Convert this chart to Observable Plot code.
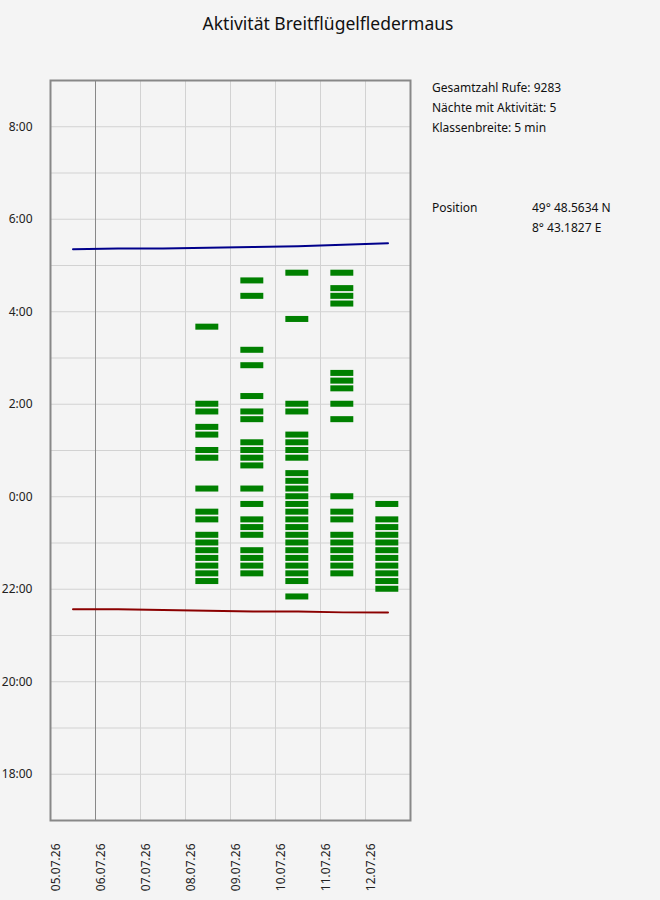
<!DOCTYPE html>
<html><head><meta charset="utf-8">
<script src="https://cdn.jsdelivr.net/npm/d3@7"></script>
<script src="https://cdn.jsdelivr.net/npm/@observablehq/plot@0.6"></script>
<style>
html,body{margin:0;padding:0;background:#f4f4f4;}
#wrap{position:relative;width:660px;height:900px;overflow:hidden;font-family:"Noto Sans",sans-serif;}
#wrap > svg{position:absolute;left:0;top:0;}
</style></head><body><div id="wrap"></div>
<script>
// ---- data ----
const titleText = "Aktivität Breitflügelfledermaus";
const infoLines = ["Gesamtzahl Rufe: 9283", "Nächte mit Aktivität: 5", "Klassenbreite: 5 min"];
const positionLabel = "Position";
const positionLines = ["49° 48.5634 N", "8° 43.1827 E"];

const dayTicks = ["2026-07-05","2026-07-06","2026-07-07","2026-07-08","2026-07-09","2026-07-10","2026-07-11","2026-07-12"];
const domainEnd = "2026-07-13";
const markerDay = "2026-07-06";
const hourTicks = [-6, -4, -2, 0, 2, 4, 6, 8];

const nightDates = ["2026-07-08","2026-07-09","2026-07-10","2026-07-11","2026-07-12"];
const night0807 = ["22:10","22:20","22:30","22:40","22:50","23:00","23:10","23:30","23:40","00:10","00:50","01:00","01:20","01:30","01:50","02:00","03:40"];
const night0907 = ["22:20","22:30","22:40","22:50","23:10","23:20","23:30","23:50","00:10","00:40","00:50","01:00","01:10","01:40","01:50","02:10","02:50","03:10","04:20","04:40"];
const night1007 = ["21:50","22:10","22:20","22:30","22:40","22:50","23:00","23:10","23:20","23:30","23:40","23:50","00:00","00:10","00:20","00:30","00:50","01:00","01:10","01:20","01:50","02:00","03:50","04:50"];
const night1107 = ["22:20","22:30","22:40","22:50","23:00","23:10","23:30","23:40","00:00","01:40","02:00","02:20","02:30","02:40","04:10","04:20","04:30","04:50"];
const night1207 = ["22:00","22:10","22:20","22:30","22:40","22:50","23:00","23:10","23:20","23:30","23:50"];

const sunDays = dayTicks;
const sunrise = ["05:21","05:22","05:22","05:23","05:24","05:25","05:27","05:29"];
const sunset  = ["21:34","21:34","21:33","21:32","21:31","21:31","21:30","21:30"];

// ---- helpers ----
const parseDay = d3.utcParse("%Y-%m-%d");
const fmtDay = d3.utcFormat("%d.%m.%y");
const toH = s => { const [h, m] = s.split(":").map(Number); const v = h + m / 60; return v >= 12 ? v - 24 : v; };
const DAY = 864e5;

const nights = [night0807, night0907, night1007, night1107, night1207];
const bars = nights.flatMap((arr, i) => arr.map(t => ({night: parseDay(nightDates[i]), h: toH(t)})));
const sunData = sunDays.map((d, i) => ({day: parseDay(d), rise: toH(sunrise[i]), set: toH(sunset[i])}));
const days = dayTicks.map(parseDay);
const halfBar = 3.9 / 60;

const chart = Plot.plot({
  width: 660, height: 900,
  marginLeft: 50, marginRight: 250, marginTop: 80, marginBottom: 80,
  style: {background: "transparent", fontFamily: "Noto Sans, sans-serif", fontSize: "12px", color: "#222", overflow: "visible"},
  x: {type: "utc", domain: [parseDay(dayTicks[0]), parseDay(domainEnd)], axis: null},
  y: {domain: [-7, 9], axis: null},
  marks: [
    Plot.gridY(d3.range(-6, 9), {stroke: "#d2d2d2", strokeOpacity: 1}),
    Plot.gridX(days, {stroke: "#d2d2d2", strokeOpacity: 1}),
    Plot.ruleX([parseDay(markerDay)], {stroke: "#888", strokeWidth: 1}),
    Plot.rect(bars, {
      x1: d => new Date(+d.night + 0.23 * DAY),
      x2: d => new Date(+d.night + 0.74 * DAY),
      y1: d => d.h - halfBar,
      y2: d => d.h + halfBar,
      fill: "#008000"
    }),
    Plot.line(sunData, {x: d => new Date(+d.day + 0.5 * DAY), y: "rise", stroke: "#00008b", strokeWidth: 2}),
    Plot.line(sunData, {x: d => new Date(+d.day + 0.5 * DAY), y: "set", stroke: "#8b0000", strokeWidth: 2}),
    Plot.frame({stroke: "#888", strokeWidth: 2}),
    Plot.axisY(hourTicks, {tickSize: 0, tickPadding: 18, tickFormat: h => `${(h + 24) % 24}:00`, label: null, fill: "#222"}),
    Plot.text(days, {x: d => d, frameAnchor: "bottom", rotate: -90, textAnchor: "end", dy: 23, dx: 9, text: d => fmtDay(d), fill: "#222"})
  ]
});

const wrap = document.getElementById("wrap");
wrap.appendChild(chart);

// annotation overlay (title + info)
const ns = "http://www.w3.org/2000/svg";
const ov = document.createElementNS(ns, "svg");
ov.setAttribute("width", 660); ov.setAttribute("height", 900);
ov.style.fontFamily = "Noto Sans, sans-serif";
function addText(x, y, s, size, anchor) {
  const t = document.createElementNS(ns, "text");
  t.setAttribute("x", x); t.setAttribute("y", y);
  t.setAttribute("font-size", size); t.setAttribute("fill", "#111");
  if (anchor) t.setAttribute("text-anchor", anchor);
  t.textContent = s; ov.appendChild(t);
}
addText(328, 30, titleText, 17.5, "middle");
infoLines.forEach((s, i) => addText(432, 92 + 20 * i, s, 12));
addText(432, 212, positionLabel, 12);
positionLines.forEach((s, i) => addText(532, 212 + 20 * i, s, 12));
wrap.appendChild(ov);
</script>
</body></html>
